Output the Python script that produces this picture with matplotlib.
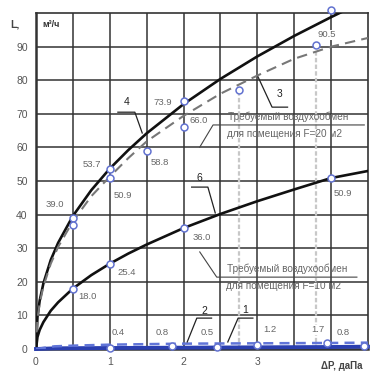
import matplotlib
matplotlib.use("Agg")
import matplotlib.pyplot as plt
import matplotlib.transforms as mtransforms

plt.rcParams['font.family'] = ['Liberation Sans', 'DejaVu Sans']

# curve samples
X_CURVE = [0, 0.02, 0.05, 0.1, 0.2, 0.3, 0.5, 0.75, 1, 1.25, 1.5, 2, 2.5, 3, 3.5, 4, 4.5]
CURVE_4 = [0, 9.6, 14.4, 19.5, 26.5, 31.6, 39.6, 47.3, 53.7, 59.2, 64.2, 72.9, 80.4, 87.1, 93.2, 98.8, 104.1]
CURVE_3 = [0, 9.0, 13.6, 18.6, 25.4, 30.4, 38.0, 45.5, 51.3, 56.8, 61.8, 69.4, 76.0, 81.4, 86.4, 90.0, 92.6]
CURVE_6 = [0, 3.6, 5.7, 8.0, 11.4, 13.9, 18.0, 22.0, 25.4, 28.4, 31.1, 36.0, 40.2, 44.0, 47.5, 50.9, 53.0]
X_LOW = [0, 0.25, 0.5, 1, 2, 3, 4, 4.5]
CURVE_1 = [0, 0.2, 0.25, 0.3, 0.4, 0.5, 0.6, 0.7]
CURVE_2 = [0, 0.8, 1.0, 1.3, 1.6, 1.7, 1.8, 1.9]

# measured points (circles)
PTS4_X = [0.5, 1, 2, 4]
PTS4_Y = [39.0, 53.7, 73.9, 101.0]
PTS3_X = [0.5, 1, 1.5, 2, 2.75, 3.8]
PTS3_Y = [37.0, 50.9, 58.8, 66.0, 77.0, 90.5]
PTS6_X = [0.5, 1, 2, 4]
PTS6_Y = [18.0, 25.4, 36.0, 50.9]
PTSL_X = [1, 1.85, 2.45, 3, 3.95, 4.45]
PTSL_Y = [0.4, 0.8, 0.5, 1.2, 1.7, 0.8]

X_TICKS = [0, 1, 2, 3]
Y_TICKS = [0, 10, 20, 30, 40, 50, 60, 70, 80, 90]

TXT = "#666666"

fig = plt.figure(figsize=(3.73, 3.74), dpi=100)
ax = fig.add_axes([0.0965, 0.0668, 0.89, 0.8982])
ax.set_xlim(0, 4.5)
ax.set_ylim(0, 100)

# grid
for gx in [i * 0.5 for i in range(1, 9)]:
    ax.axvline(gx, color="#333333", lw=1.1, zorder=1)
for gy in range(10, 100, 10):
    ax.axhline(gy, color="#333333", lw=1.1, zorder=1)
for s in ax.spines.values():
    s.set_color("#333333")
    s.set_linewidth(1.2)
ax.spines["left"].set_linewidth(1.8)
ax.spines["bottom"].set_linewidth(1.8)

# light drop lines
for px, py in [(PTS3_X[4], PTS3_Y[4]), (PTS3_X[5], PTS3_Y[5])]:
    ax.plot([px, px], [0, py], color="#c8c8c8", lw=1.6, ls=(0, (2, 1)), zorder=2)

ax.plot(X_CURVE, CURVE_4, color="#111111", lw=1.9, zorder=4)
ax.plot(X_CURVE, CURVE_3, color="#777777", lw=1.5, ls=(0, (5, 3)), zorder=4)
ax.plot(X_CURVE, CURVE_6, color="#111111", lw=1.9, zorder=4)
ax.plot(X_LOW, CURVE_1, color="#2b3fb0", lw=2.8, zorder=4, clip_on=False)
ax.plot(X_LOW, CURVE_2, color="#6175d8", lw=1.8, ls=(0, (4, 2.5)), zorder=5)

mk = dict(ls="none", marker="o", ms=5, mfc="white", mec="#6272d0", mew=1.1, zorder=6, clip_on=False)
ax.plot(PTS4_X, PTS4_Y, **mk)
ax.plot(PTS3_X, PTS3_Y, **mk)
ax.plot(PTS6_X, PTS6_Y, **mk)
ax.plot(PTSL_X, PTSL_Y, **mk)

# value labels
vals = [("39.0", 0.26, 42.9), ("53.7", 0.76, 54.8), ("50.9", 1.18, 45.8),
        ("58.8", 1.68, 55.4), ("73.9", 1.72, 73.5), ("66.0", 2.2, 67.9),
        ("90.5", 3.94, 93.5), ("18.0", 0.70, 15.5), ("25.4", 1.23, 22.9),
        ("36.0", 2.25, 33.3), ("50.9", 4.16, 46.4),
        ("0.4", 1.11, 4.8), ("0.8", 1.71, 4.8), ("0.5", 2.32, 4.8),
        ("1.2", 3.17, 5.7), ("1.7", 3.82, 5.7), ("0.8", 4.16, 4.8)]
for t, x, y in vals:
    ax.text(x, y, t, fontsize=6.8, color=TXT, ha="center", va="center", zorder=7,
            bbox=dict(fc="white", ec="none", pad=0.3))

# curve numbers with leaders
lead = dict(color="#222222", lw=0.9, zorder=7, clip_on=False)
for num, tx, ty, ux0, ux1, uy, lx, ly in [
        ("4", 1.23, 73.6, 1.11, 1.34, 70.5, 1.44, 64.3),
        ("3", 3.30, 75.8, 3.41, 3.20, 72.0, 3.01, 81.0),
        ("6", 2.22, 51.0, 2.11, 2.33, 48.2, 2.43, 40.5),
        ("2", 2.28, 11.4, 2.38, 2.18, 9.2, 2.05, 2.1),
        ("1", 2.84, 11.6, 2.94, 2.74, 9.2, 2.60, 2.1)]:
    ax.text(tx, ty, num, fontsize=7.5, color="#222222", ha="center", va="center", zorder=7)
    ax.plot([ux0, ux1, lx], [uy, uy, ly], **lead)

# required air-exchange notes
for (lx0, ly0, ux0, ux1, uy, y1, y2, area) in [
        (2.22, 60.1, 2.40, 4.45, 66.7, 69.0, 63.9, "20"),
        (2.22, 28.9, 2.45, 4.35, 21.4, 23.8, 18.9, "10")]:
    ax.plot([lx0, ux0, ux1], [ly0, uy, uy], color="#444444", lw=0.8, zorder=7)
    ax.text((ux0 + ux1) / 2, y1, "Требуемый воздухообмен", fontsize=7.2, color=TXT,
            ha="center", va="center", zorder=7)
    ax.text((ux0 + ux1) / 2 - 0.05, y2, f"для помещения F={area} м2", fontsize=7.2,
            color=TXT, ha="center", va="center", zorder=7)

ax.set_xticks(X_TICKS)
ax.set_xticklabels([str(v) for v in X_TICKS])
ax.set_yticks(Y_TICKS)
ax.set_yticklabels([str(v) for v in Y_TICKS])
ax.tick_params(length=0, labelsize=7.5, labelcolor="#555555", pad=6)
ax.grid(False)

trans = mtransforms.blended_transform_factory(ax.transData, ax.transAxes)
ax.text(4.15, -0.05, "ΔP, даПа", transform=trans, fontsize=7, fontweight="bold",
        color="#444444", ha="center", va="center")
ax.text(-0.05, 0.965, "L,", transform=ax.transAxes, fontsize=7.5, fontweight="bold",
        color="#444444", ha="right", va="center")
ax.text(0.02, 0.965, "м³/ч", transform=ax.transAxes, fontsize=6.5, fontweight="bold",
        color="#333333", ha="left", va="center")

fig.savefig("out.png", dpi=100)
